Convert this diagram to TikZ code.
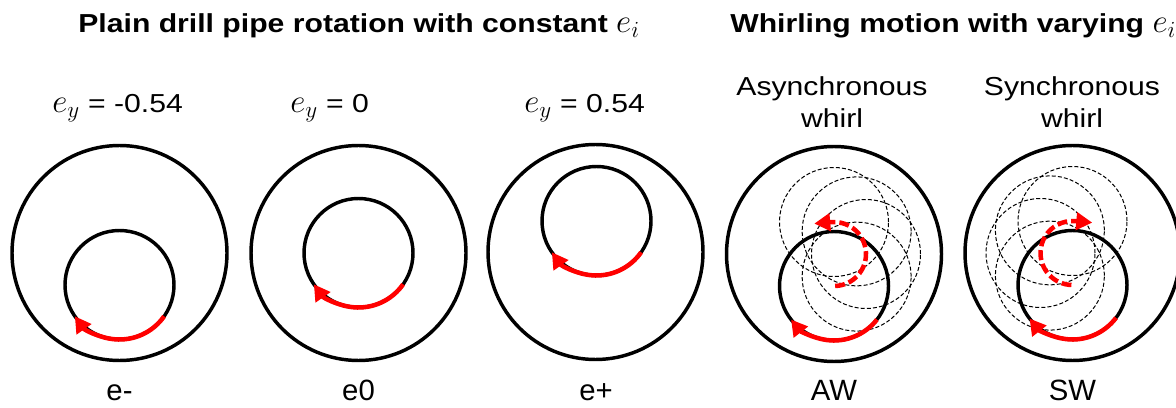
\documentclass[tikz,border=0pt]{standalone}
\usepackage{fontspec}
\setmainfont{Liberation Sans}[FakeStretch=1.16]
\newfontfamily\plainsans{Liberation Sans}
\usepackage{tikz}
\usetikzlibrary{arrows.meta,calc}
\definecolor{RotRed}{HTML}{FF0000}
\tikzset{
  pipe/hole/.style={draw, line width=2.6pt},
  pipe/body/.style={draw, line width=2.6pt},
  pipe/ghost/.style={draw, line width=0.75pt, dash pattern=on 3pt off 1.6pt},
  rot/arc/.style={RotRed, line width=3.4pt, -{Triangle[length=12pt,width=13pt]}},
  rot/whirl/.style={rot/arc, dash pattern=on 7.5pt off 3pt},
  lbl/title/.style={font=\fontsize{19.5}{22}\selectfont\bfseries, inner sep=0pt, anchor=base},
  lbl/case/.style={font=\fontsize{19.5}{24}\selectfont, inner sep=0pt, anchor=base, align=center},
  lbl/tag/.style={font=\plainsans\fontsize{22}{24}\selectfont, inner sep=0pt, anchor=base}
}
\newcommand{\ecc}[1]{{\fontsize{25}{25}\selectfont$e_{#1}$}}

\begin{document}
\begin{tikzpicture}[x=0.75pt,y=0.75pt]
\useasboundingbox (0,0) rectangle (1176,407);
% wellbore and pipe centres
\coordinate (wm) at (119.5,154); \coordinate (pm) at (119.5,122);
\coordinate (wz) at (358.5,154); \coordinate (pz) at (358.5,154);
\coordinate (wp) at (595.5,155); \coordinate (pp) at (596.5,186);
\coordinate (wa) at (834,153);   \coordinate (pa) at (834,121);
\coordinate (ws) at (1072.5,154); \coordinate (ps) at (1072.5,122);
% titles
\node[lbl/title] (tplain) at (359,374) {Plain drill pipe rotation with constant \ecc{i}};
\node[lbl/title, anchor=base west] (twhirl) at (730,374) {Whirling motion with varying \ecc{i}};
\node[lbl/case, anchor=base west] (cm) at (52,294) {\ecc{y} = -0.54};
\node[lbl/case, anchor=base west] (cz) at (290,294) {\ecc{y} = 0};
\node[lbl/case, anchor=base west] (cp) at (524,294) {\ecc{y} = 0.54};
\node[lbl/case] (ca) at (832,279) {Asynchronous\\whirl};
\node[lbl/case] (cs) at (1072,279) {Synchronous\\whirl};
% constant eccentricity
\draw[pipe/hole] (wm) circle[radius=107.5];
\draw[pipe/body] (pm) circle[radius=54.5];
\draw[rot/arc] ($(pm)+(-35:54.5)$) arc[start angle=-35, end angle=-145, radius=54.5];
\draw[pipe/hole] (wz) circle[radius=107.5];
\draw[pipe/body] (pz) circle[radius=54.5];
\draw[rot/arc] ($(pz)+(-35:54.5)$) arc[start angle=-35, end angle=-145, radius=54.5];
\draw[pipe/hole] (wp) circle[radius=107.5];
\draw[pipe/body] (pp) circle[radius=54.5];
\draw[rot/arc] ($(pp)+(-35:54.5)$) arc[start angle=-35, end angle=-145, radius=54.5];
% asynchronous whirl
\draw[pipe/hole] (wa) circle[radius=107.5];
\draw[pipe/ghost] ($(wa)+(90:32)$) circle[radius=54.5];
\draw[pipe/ghost] ($(wa)+(45:32)$) circle[radius=54.5];
\draw[pipe/ghost] ($(wa)+(0:32)$) circle[radius=54.5];
\draw[pipe/ghost] ($(wa)+(-45:32)$) circle[radius=54.5];
\draw[pipe/body] (pa) circle[radius=54.5];
\draw[rot/whirl] ($(wa)+(-88:32)$) arc[start angle=-88, end angle=95, radius=32] -- ++(185:17);
\draw[rot/arc] ($(pa)+(-38:54.5)$) arc[start angle=-38, end angle=-142, radius=54.5];
% synchronous whirl
\draw[pipe/hole] (ws) circle[radius=107.5];
\draw[pipe/ghost] ($(ws)+(90:32)$) circle[radius=54.5];
\draw[pipe/ghost] ($(ws)+(135:32)$) circle[radius=54.5];
\draw[pipe/ghost] ($(ws)+(180:32)$) circle[radius=54.5];
\draw[pipe/ghost] ($(ws)+(225:32)$) circle[radius=54.5];
\draw[pipe/body] (ps) circle[radius=54.5];
\draw[rot/whirl] ($(ws)+(-92:32)$) arc[start angle=-92, end angle=-275, radius=32] -- ++(-5:17);
\draw[rot/arc] ($(ps)+(-37:54.5)$) arc[start angle=-37, end angle=-142, radius=54.5];
% case tags
\node[lbl/tag] (gm) at (119.5,7) {e-};
\node[lbl/tag] (gz) at (358.5,7) {e0};
\node[lbl/tag] (gp) at (596,7) {e+};
\node[lbl/tag] (ga) at (834,7) {AW};
\node[lbl/tag] (gs) at (1072.5,7) {SW};
\end{tikzpicture}
\end{document}
